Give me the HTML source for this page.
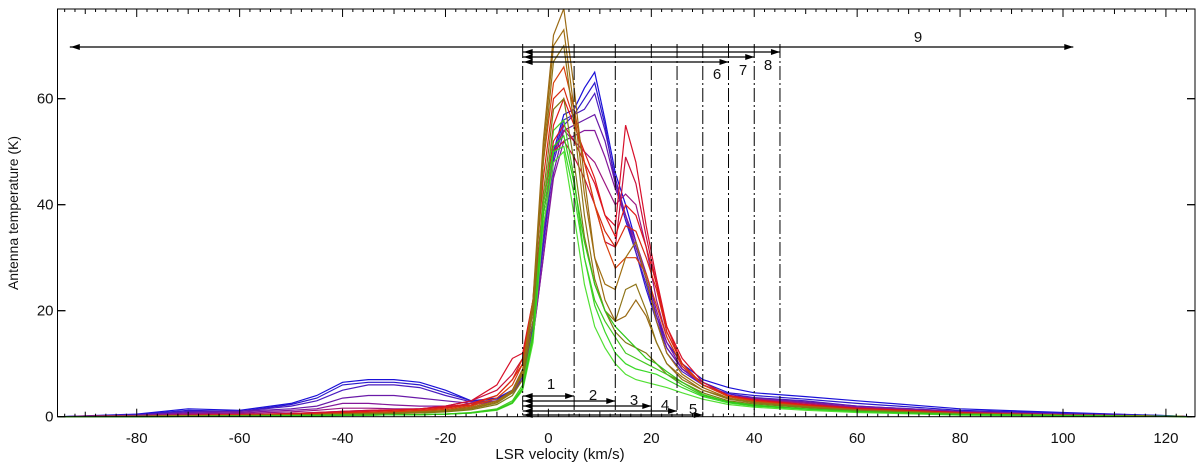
<!DOCTYPE html>
<html><head><meta charset="utf-8"><style>
html,body{margin:0;padding:0;background:#fff;}
svg{display:block;font-family:"Liberation Sans",sans-serif;}
</style></head><body>
<svg id="chart" width="1200" height="467" viewBox="0 0 1200 467" xmlns="http://www.w3.org/2000/svg">
<g id="marks"></g>
<g id="axes"></g>
<g id="annot"></g>
<text x="560" y="459" font-size="15" text-anchor="middle" fill="#111">LSR velocity (km/s)</text>
<text transform="translate(18,213) rotate(-90)" font-size="14" text-anchor="middle" fill="#111">Antenna temperature (K)</text>
</svg>
<script>
const velocities=[-95,-80,-70,-60,-50,-45,-40,-35,-30,-25,-20,-15,-10,-7,-5,-3,-1,1,3,5,7,9,11,13,15,17,19,21,23,26,30,35,40,50,60,80,100,120,125];
const xTicks=[-80,-60,-40,-20,0,20,40,60,80,100,120];
const yTicks=[0,20,40,60];
const seriesColors=["#1a10d8","#2a18cc","#4a1cc0","#6a1aa8","#84189a","#9c1680","#d8102a","#c8103c","#e01818","#d82a10","#d8400c","#9a6a14","#a06e10","#8e7418","#7e7a14","#44c820","#3ad828","#52e034","#30c818"];
const s0=[0,.5,1.5,1.2,2.5,4,6.5,7,7,6.5,5,3,3.5,5,9,18,35,50,57,58,62,65,56,46,40,33,26,19,14,10,7,5.5,4.5,3.8,3,1.5,.8,.2,0];
const s1=[0,.4,1.2,1,2.3,3.5,6,6.5,6.5,6,4.5,3,3.3,5,8,17,33,49,56,57,60,63,55,44,37,31,24,18,13,9,6.5,4.5,4,3.3,2.5,1.2,.7,.2,0];
const s2=[0,.3,1,1,2,3,5,6,6,5.5,4,2.8,3,4.5,7.5,16,32,48,55,57,58,61,54,45,38,31,25,18,12,8.5,6,4.3,3.6,3,2,1,.5,.1,0];
const s3=[0,.3,.8,1,1.5,2,3.5,4,4,3.5,3,2.5,3,4.5,7,15,30,46,54,55,56,57,52,44,38,32,26,19,13,9,6,4,3.5,2.8,2,1,.5,.1,0];
const s4=[0,.2,.6,.8,1.2,1.5,2.5,2.5,2.2,2,2,2.2,3,4.5,7,15,30,45,52,53,54,54,49,43,38,33,27,20,14,9,6,4,3.4,2.6,1.8,.9,.4,.1,0];
const s5=[0,.2,.5,.6,.9,1.2,1.6,1.6,1.5,1.5,1.8,2.2,3,5,8,18,35,50,54,52,50,48,44,40,42,40,32,22,15,9.5,6,4,3.3,2.5,1.7,.8,.4,.1,0];
const s6=[0,.1,.3,.4,.6,.8,1,1.2,1.3,1.5,2,3,6,11,12,22,40,52,55,52,48,44,38,36,55,48,36,26,17,11,6.5,4,3.2,2.3,1.6,.8,.3,.1,0];
const s7=[0,.1,.3,.4,.6,.8,1,1.2,1.3,1.5,2,3,5,8,11,20,38,50,52,49,45,40,33,32,49,44,34,25,16,10,6,4,3,2.2,1.5,.7,.3,.1,0];
const s8=[0,.1,.2,.3,.5,.6,.8,1,1.2,1.4,1.8,2.5,4,7,10,20,40,55,60,55,50,45,38,34,40,38,32,25,17,10,6,4,3,2.2,1.5,.7,.3,.1,0];
const s9=[0,.1,.2,.3,.4,.5,.7,.8,1,1.2,1.6,2.2,4,7,11,22,45,60,62,56,48,40,35,32,36,35,30,24,16,10,6,3.8,2.9,2.1,1.4,.6,.3,.1,0];
const s10=[0,.1,.2,.3,.4,.5,.6,.7,.9,1.1,1.4,2,3.5,6,10,22,48,63,66,58,48,40,33,28,30,30,27,21,15,9.5,6,3.8,2.9,2,1.3,.6,.3,.1,0];
const s11=[0,.05,.1,.2,.3,.4,.5,.6,.7,.9,1.2,1.8,3,5,9,22,52,72,77,62,45,30,22,18,19,22,19,14,10,7.5,5,3.5,2.7,1.9,1.3,.6,.3,.1,0];
const s12=[0,.05,.1,.2,.3,.4,.5,.6,.7,.9,1.1,1.6,2.8,4.8,8.5,21,50,70,73,58,42,30,25,24,30,33,26,18,12,8,5.5,3.5,2.7,1.9,1.3,.6,.3,.1,0];
const s13=[0,.05,.1,.2,.3,.4,.5,.6,.7,.8,1,1.5,2.6,4.5,8,20,48,67,70,55,38,26,20,18,24,25,20,14,10,7,5,3.3,2.6,1.8,1.2,.5,.2,.1,0];
const s14=[0,.05,.1,.2,.3,.35,.4,.5,.6,.7,.9,1.3,2.3,4,7,18,42,58,60,48,34,25,20,16,14,13,12,10,8,6.5,4.5,3,2.4,1.7,1.1,.5,.2,.1,0];
const s15=[0,.02,.05,.1,.15,.2,.25,.3,.35,.4,.5,.8,1.5,3,6,16,40,54,56,45,30,22,18,15,12,11,10,9,8,6,4,2.8,2.2,1.5,1,.4,.2,.05,0];
const s16=[0,.02,.05,.1,.15,.2,.25,.3,.35,.4,.5,.7,1.3,2.7,5.5,15,38,50,51,42,30,21,16,12,10,9,8.5,8,7,5.5,3.8,2.6,2,1.4,.9,.4,.2,.05,0];
const s17=[0,.02,.05,.1,.15,.2,.25,.3,.35,.4,.5,.7,1.2,2.5,5,14,36,48,50,38,25,17,13,10,8,7,6.5,6,5.5,4.5,3.3,2.3,1.8,1.2,.8,.3,.15,.05,0];
const s18=[0,.02,.05,.1,.15,.2,.25,.3,.35,.4,.5,.7,1.3,2.6,5.3,15,38,51,53,44,33,25,20,17,15,13,11,10,8.5,6.5,4.2,2.8,2.1,1.5,1,.4,.2,.05,0];
const seriesList=[s0,s1,s2,s3,s4,s5,s6,s7,s8,s9,s10,s11,s12,s13,s14,s15,s16,s17,s18];
const rangeEdges=[-5,5,13,20,25,30,35,40,45];
const bottomRangeEnds=[5,13,20,25,30];
const topRangeEnds=[35,40,45];
const bigRange=[-93,102];

const NS="http://www.w3.org/2000/svg";
const X0=57.5,X1=1195,Y0=416.7,Y1=9;
function xs(v){return 548.4+5.146*v;}
function ys(t){return Y0-5.3*t;}
function mk(tag,attrs,parent){const e=document.createElementNS(NS,tag);for(const k in attrs)e.setAttribute(k,attrs[k]);parent.appendChild(e);return e;}
const marks=document.getElementById('marks'),axes=document.getElementById('axes'),annot=document.getElementById('annot');

const defs=mk('defs',{},document.getElementById('chart'));
const cp=mk('clipPath',{id:'clip'},defs);
mk('rect',{x:X0,y:Y1,width:X1-X0,height:Y0-Y1+1},cp);
marks.setAttribute('clip-path','url(#clip)');

rangeEdges.forEach(v=>{
  const l=mk('line',{x1:xs(v),x2:xs(v),y1:44,y2:Y0,stroke:'#000','stroke-width':1,'stroke-dasharray':'14,3,2,3'},annot);
  
  
});

seriesList.forEach((s,i)=>{
  const d=s.map((t,j)=>(j?'L':'M')+xs(velocities[j]).toFixed(1)+','+ys(t).toFixed(1)).join('');
  const p=mk('path',{d:d,fill:'none',stroke:seriesColors[i],'stroke-width':1.2},marks);
  
  
});

const fr=mk('rect',{x:X0,y:Y1,width:X1-X0,height:Y0-Y1,fill:'none',stroke:'#000','stroke-width':1},axes);


for(let v=-94;v<=124;v+=2){
  const len=(v%10===0)?(v%20===0?8:5):3;
  mk('line',{x1:xs(v),x2:xs(v),y1:Y0,y2:Y0-len,stroke:'#000'},axes);
  mk('line',{x1:xs(v),x2:xs(v),y1:Y1,y2:Y1+len,stroke:'#000'},axes);
}
xTicks.forEach(v=>{
  const t=mk('text',{x:xs(v),y:443,'font-size':15,'text-anchor':'middle',fill:'#111'},axes);
  t.textContent=v;
  
  
});
yTicks.forEach(v=>{
  mk('line',{x1:X0,x2:X0+8,y1:ys(v),y2:ys(v),stroke:'#000','stroke-width':1.3},axes);
  mk('line',{x1:X1,x2:X1-8,y1:ys(v),y2:ys(v),stroke:'#000','stroke-width':1.3},axes);
  const t=mk('text',{x:X0-4,y:ys(v)+5,'font-size':15,'text-anchor':'end',fill:'#111'},axes);
  t.textContent=v;
  
  
});

function arrowHead(x,y,dir){mk('path',{d:`M${x},${y}L${x-9*dir},${y-3}L${x-9*dir},${y+3}Z`,fill:'#000'},annot);}
function arrow(v0,v1,y,both){
  const l=mk('line',{x1:xs(v0),x2:xs(v1),y1:y,y2:y,stroke:'#000','stroke-width':1.2},annot);
  
  
  arrowHead(xs(v1),y,1);
  if(both)arrowHead(xs(v0)+1,y,-1);
}
function label(txt,x,y){const t=mk('text',{x:x,y:y,'font-size':15,'text-anchor':'middle',fill:'#111'},annot);t.textContent=txt;}
arrow(bigRange[0],bigRange[1],47,true);
label('9',918,42);
const topY=[52,57,62];
[45,40,35].forEach((e,i)=>arrow(-5,e,topY[i],true));
label('8',768,70);label('7',743,75);label('6',717,79);
const botY=[396,401,406,411,415];
const botLab=[[551,389],[593,400],[634,405],[665,410],[693,414]];
bottomRangeEnds.forEach((e,i)=>{arrow(-5,e,botY[i],true);label(String(i+1),botLab[i][0],botLab[i][1]);});
</script>
</body></html>
